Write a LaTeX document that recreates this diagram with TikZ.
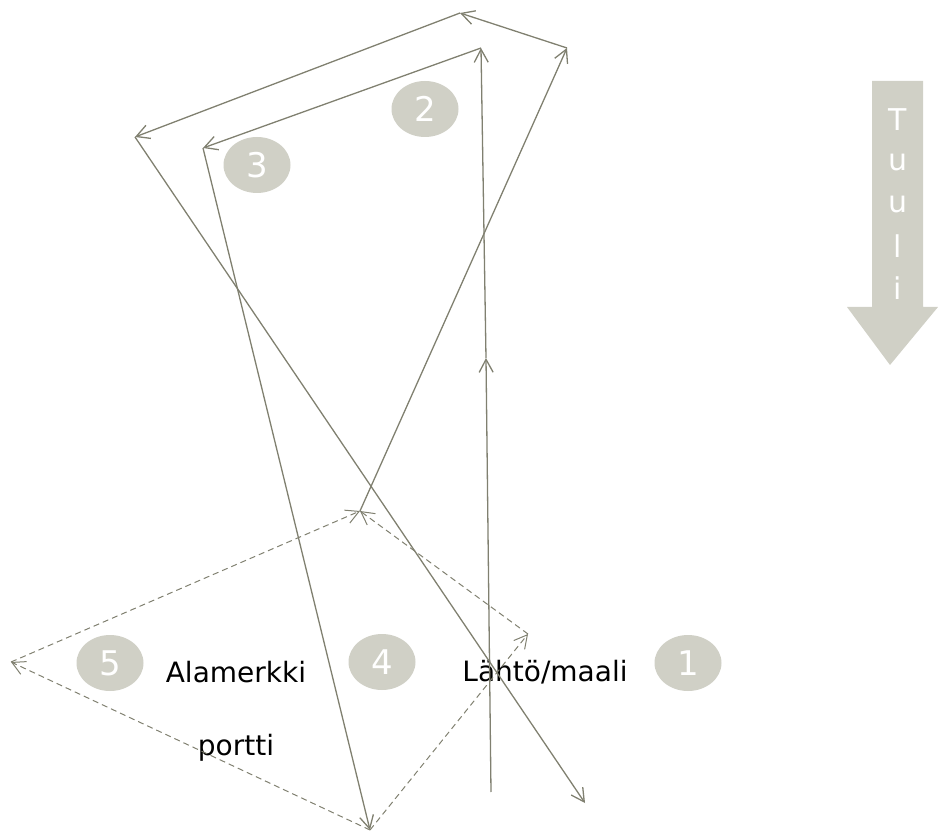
\documentclass[tikz,border=0pt]{standalone}
\usepackage{fontspec}
\setmainfont{DejaVu Sans}
\usepackage{xcolor}
\usetikzlibrary{arrows.meta,shapes.geometric,positioning}

\definecolor{courseline}{RGB}{128,128,112}
\definecolor{markfill}{RGB}{208,208,198}

\tikzset{
	leg/.style={draw=courseline,line width=0.65pt,-{Straight Barb[length=6.5pt,width=7pt]}},
	gateleg/.style={leg,line width=0.5pt,dash pattern=on 3pt off 2pt},
	buoy/.style={ellipse,fill=markfill,minimum width=33.5pt,minimum height=28pt,inner sep=0pt,text=white,font=\fontsize{17}{17}\selectfont},
	placename/.style={anchor=base,font=\fontsize{14}{14}\selectfont}
}

\begin{document}
\begin{tikzpicture}[x=0.5pt,y=-0.5pt]
	
	\useasboundingbox (0,0) rectangle (938,834);
	
	% turning points
	\coordinate (start) at (491,792);
	\coordinate (half) at (486,358);
	\coordinate (top_in) at (481,48);
	\coordinate (left_in) at (203,148);
	\coordinate (gate_B) at (370,830);
	\coordinate (gate_L) at (11,662);
	\coordinate (gate_R) at (528,634);
	\coordinate (gate_T) at (360,511);
	\coordinate (top_out) at (567,48);
	\coordinate (top_mid) at (460,13);
	\coordinate (left_out) at (135,137);
	\coordinate (finish) at (585,803);
	
	% marks
	\node (M2) [buoy] at (425,109) {2};
	\node (M3) [buoy] at (257,165) {3};
	\node (M5) [buoy] at (110,663) {5};
	\node (M4) [buoy] at (382,662) {4};
	\node (M1) [buoy] at (688,663) {1};
	
	\node (alamerkki) [placename] at (236,682) {Alamerkki};
	\node (portti) [placename] at (236,755) {portti};
	\node (lahto) [placename] at (545,681) {Lähtö/maali};
	
	% course
	\draw [leg] (start) -- (half);
	\draw [leg] (half) -- (top_in);
	\draw [leg] (top_in) -- (left_in);
	\draw [leg] (left_in) -- (gate_B);
	
	\draw [gateleg] (gate_B) -- (gate_L);
	\draw [gateleg] (gate_L) -- (gate_T);
	\draw [gateleg] (gate_B) -- (gate_R);
	\draw [gateleg] (gate_R) -- (gate_T);
	
	\draw [leg] (gate_T) -- (top_out);
	\draw [leg] (top_out) -- (top_mid);
	\draw [leg] (top_mid) -- (left_out);
	\draw [leg] (left_out) -- (finish);
	
	% wind
	\fill [markfill] (872,81) -- (923,81) -- (923,307) -- (938,307) -- (890,365) -- (847,307) -- (872,307) -- cycle;
	
	\foreach \ch [count=\i] in {T,u,u,l,i}
		\node (wind_\i) [text=white,font=\fontsize{15}{15}\selectfont] at (898,78+42*\i) {\ch};
	
\end{tikzpicture}
\end{document}
